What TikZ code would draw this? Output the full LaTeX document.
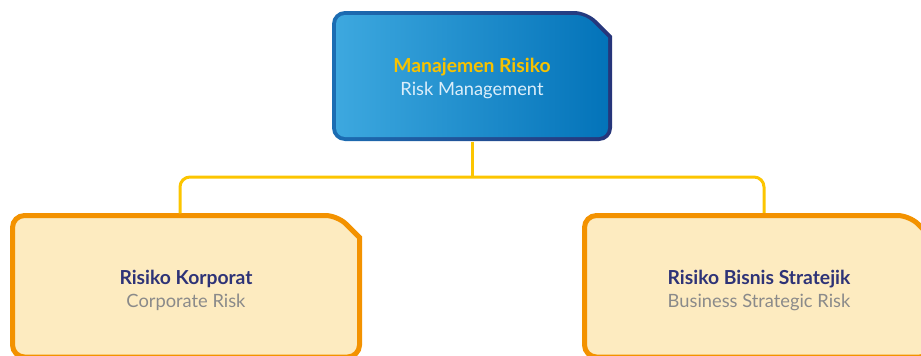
\documentclass[tikz,border=0pt]{standalone}
\usepackage{fontspec}
\setmainfont{Lato}
\definecolor{bluebordL}{HTML}{1B6DB3}
\definecolor{bluebordR}{HTML}{26357A}
\definecolor{bluefillL}{HTML}{3DA8DF}
\definecolor{bluefillR}{HTML}{0373B9}
\definecolor{orangebord}{HTML}{F39200}
\definecolor{creamfill}{HTML}{FDEBC0}
\definecolor{connyellow}{HTML}{FCC500}
\definecolor{titleyellow}{HTML}{F7C200}
\definecolor{subwhite}{HTML}{DCEEFA}
\definecolor{navytext}{HTML}{2E3377}
\definecolor{graytext}{HTML}{8A8A8A}
\begin{document}
\begin{tikzpicture}[x=1pt,y=-1pt,
  boxnode/.style={draw=none,inner sep=0,align=center,font=\fontsize{18}{23}\selectfont},
  orangebox/.style={draw=orangebord,line width=5pt,fill=creamfill},
  conn/.style={draw=connyellow,line width=3pt,rounded corners=10pt}]
\useasboundingbox (0,0) rectangle (921,356);
% top box shape
\shade[left color=bluebordL,right color=bluebordR]
  (332,76) [rounded corners=13pt]-- (332,11) -- (587,11) [sharp corners]-- (612,36) [rounded corners=13pt]-- (612,141) -- (332,141) -- cycle;
\shade[left color=bluefillL,right color=bluefillR]
  (336,76) [rounded corners=9pt]-- (336,15) -- (585.3,15) [sharp corners]-- (608,37.7) [rounded corners=9pt]-- (608,137) -- (336,137) -- cycle;
% lower boxes
\begin{scope}
\clip (0,0) rectangle (921,356);
\draw[orangebox] (12.5,290) [rounded corners=12pt]-- (12.5,215.5) -- (337.5,215.5) [sharp corners]-- (359.5,237.5) [rounded corners=12pt]-- (359.5,357) -- (12.5,357) -- cycle;
\draw[orangebox] (584.5,290) [rounded corners=12pt]-- (584.5,215.5) -- (909.5,215.5) [sharp corners]-- (931.5,237.5) [rounded corners=12pt]-- (931.5,357) -- (584.5,357) -- cycle;
\end{scope}
% nodes
\node[boxnode,minimum width=280pt,minimum height=126pt] (top) at (472,78.5) {{\color{titleyellow}\fontsize{19.3}{23}\selectfont\bfseries Manajemen Risiko}\\{\color{subwhite}\fontsize{18.3}{23}\selectfont Risk Management}};
\node[boxnode,minimum width=352pt,minimum height=153pt] (left) at (186,290) {{\color{navytext}\fontsize{19.3}{23}\selectfont\bfseries Risiko Korporat}\\{\color{graytext}\fontsize{18.3}{23}\selectfont Corporate Risk}};
\node[boxnode,minimum width=354pt,minimum height=154pt] (right) at (759,290) {{\color{navytext}\fontsize{19.3}{23}\selectfont\bfseries Risiko Bisnis Stratejik}\\{\color{graytext}\fontsize{18.3}{23}\selectfont Business Strategic Risk}};
\coordinate (hub) at (472,177);
% connectors
\draw[conn] (top.south) -- (hub);
\draw[conn] ([xshift=-6pt]left.north) -- ([xshift=-6pt]left.north |- hub) -- ([xshift=5pt]right.north |- hub) -- ([xshift=5pt]right.north);
\end{tikzpicture}
\end{document}
